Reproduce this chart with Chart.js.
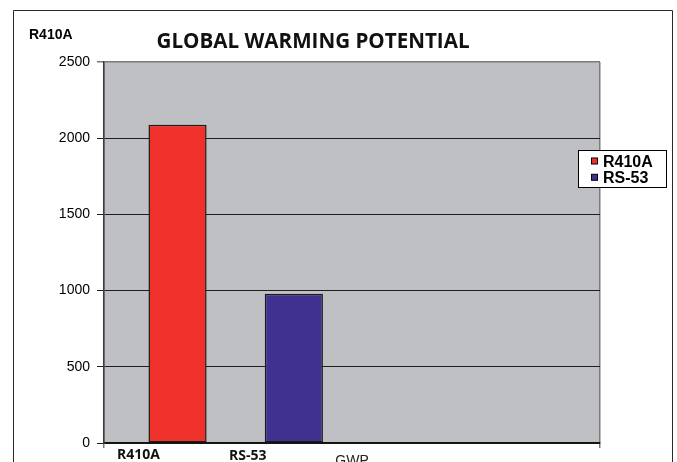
<!DOCTYPE html>
<html>
<head>
<meta charset="utf-8">
<script src="https://cdn.jsdelivr.net/npm/chart.js@4/dist/chart.umd.min.js"></script>
<style>
  html, body { margin: 0; padding: 0; background: #ffffff; }
  #wrap { width: 677px; height: 462px; position: relative; }
</style>
</head>
<body>
<div id="wrap"><canvas id="c" width="677" height="462"></canvas></div>
<script>
// ---- data ----
const categories = ['GWP'];
const seriesNames = ['R410A', 'RS-53'];
const r410aValues = [2088];
const rs53Values = [980];
const yTicks = [0, 500, 1000, 1500, 2000, 2500];
const seriesColors = ['#f0302a', '#403090'];
const chartTitle = 'GLOBAL WARMING POTENTIAL';
const cornerLabel = 'R410A';

const barStyle = {
  borderColor: '#1a1a1a',
  borderWidth: 1.5,
  borderSkipped: false,
  barPercentage: 0.5,
  categoryPercentage: 0.938
};

const datasets = [
  { label: seriesNames[0], data: r410aValues, backgroundColor: seriesColors[0] },
  { label: seriesNames[1], data: rs53Values, backgroundColor: seriesColors[1] },
  // two unused series slots of the workbook keep their place in the group
  { label: '', data: [null], backgroundColor: 'rgba(0,0,0,0)' },
  { label: '', data: [null], backgroundColor: 'rgba(0,0,0,0)' }
].map(d => Object.assign({}, barStyle, d));

// plot background, outer frame, free text and the boxed legend
const decorations = {
  id: 'decorations',
  beforeDraw(chart) {
    const { ctx, chartArea: a } = chart;
    ctx.save();
    ctx.fillStyle = '#bfc0c4';
    ctx.fillRect(a.left, a.top, a.right - a.left, a.bottom - a.top);
    ctx.restore();
  },
  afterDraw(chart) {
    const { ctx } = chart;
    ctx.save();
    // outer frame (runs past the bottom edge)
    ctx.strokeStyle = '#2a2a2a';
    ctx.lineWidth = 1;
    ctx.beginPath();
    ctx.moveTo(13.5, 470);
    ctx.lineTo(13.5, 10.5);
    ctx.lineTo(672.5, 10.5);
    ctx.lineTo(672.5, 470);
    ctx.stroke();

    // corner label
    ctx.fillStyle = '#000';
    ctx.textBaseline = 'alphabetic';
    ctx.textAlign = 'left';
    ctx.font = 'bold 14px "Liberation Sans", Arial, sans-serif';
    ctx.fillText(cornerLabel, 29, 39);

    // title
    ctx.textAlign = 'center';
    ctx.font = 'bold 20.6px "Open Sans", sans-serif';
    ctx.fillStyle = '#111';
    ctx.fillText(chartTitle, 313, 48);

    // series names written under the bars
    ctx.textAlign = 'left';
    ctx.font = 'bold 14px "Open Sans", sans-serif';
    ctx.fillStyle = '#111';
    ctx.fillText(seriesNames[0], 117, 459);
    ctx.fillText(seriesNames[1], 229, 460);

    // legend box
    const lx = 578.5, ly = 150.5, lw = 88, lh = 37;
    ctx.fillStyle = '#ffffff';
    ctx.fillRect(lx, ly, lw, lh);
    ctx.strokeStyle = '#000';
    ctx.lineWidth = 1;
    ctx.strokeRect(lx, ly, lw, lh);
    ctx.font = 'bold 16px "Liberation Sans", Arial, sans-serif';
    const shown = chart.data.datasets.filter(d => d.label);
    shown.forEach((d, i) => {
      const base = 167 + i * 16.3;
      ctx.fillStyle = d.backgroundColor;
      ctx.fillRect(591.5, base - 9, 6, 6);
      ctx.strokeStyle = '#000';
      ctx.strokeRect(591.5, base - 9, 6, 6);
      ctx.fillStyle = '#000';
      ctx.fillText(d.label, 603, base);
    });
    ctx.restore();
  }
};

new Chart(document.getElementById('c'), {
  type: 'bar',
  data: { labels: categories, datasets },
  plugins: [decorations],
  options: {
    responsive: false,
    animation: false,
    devicePixelRatio: 1,
    layout: { padding: { top: 62, right: 77, left: 0, bottom: 0 } },
    plugins: {
      legend: { display: false },
      title: { display: false },
      tooltip: { enabled: false }
    },
    scales: {
      x: {
        afterFit(scale) { scale.height = 19; },
        grid: {
          display: true,
          offset: true,
          drawOnChartArea: true,
          color: '#7a7a7a',
          lineWidth: 1.5,
          tickLength: 5
        },
        border: { display: true, color: '#111', width: 1.5 },
        ticks: {
          padding: 5,
          color: '#222',
          font: { family: '"Liberation Sans", Arial, sans-serif', size: 14 }
        }
      },
      y: {
        min: 0,
        max: 2500,
        afterFit(scale) { scale.width = 104; },
        afterBuildTicks(scale) { scale.ticks = yTicks.map(v => ({ value: v })); },
        grid: {
          color: c => (c.tick && c.tick.value === 2500 ? '#7a7a7a' : '#1e1e1e'),
          lineWidth: c => (c.tick && c.tick.value === 2500 ? 1.5 : 1),
          tickLength: 7
        },
        border: { display: true, color: '#3a3a3a', width: 1.5 },
        ticks: {
          padding: 7,
          color: '#000',
          font: { family: '"Liberation Sans", Arial, sans-serif', size: 14 },
          callback: v => String(v)
        }
      }
    }
  }
});
</script>
</body>
</html>
